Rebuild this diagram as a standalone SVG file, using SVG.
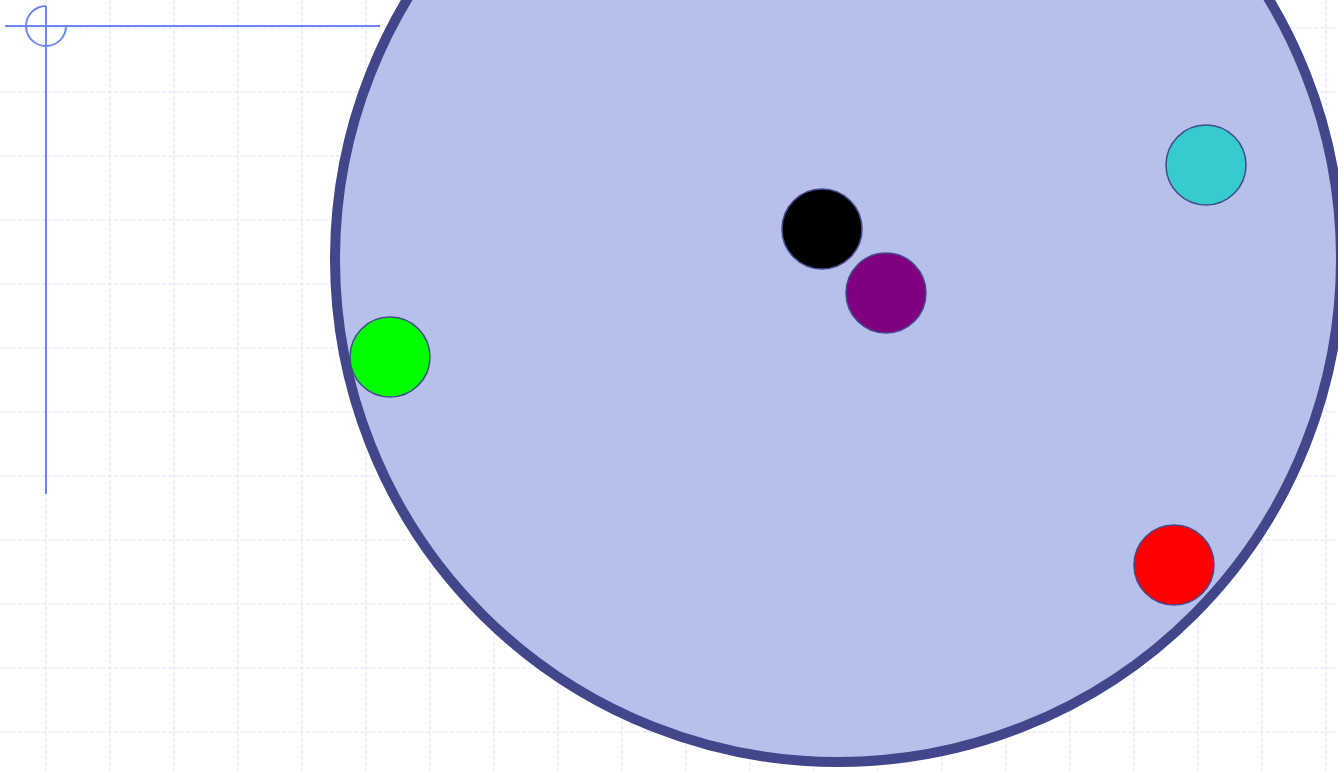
<svg xmlns="http://www.w3.org/2000/svg" width="1338" height="771" viewBox="0 0 1338 771">
<style>
.grid line{stroke:#dfe5fb;stroke-width:1.2;stroke-dasharray:4 2}
.axis{stroke:#6f86ee;stroke-width:2;fill:none}
.dot{stroke:#434a8c;stroke-width:1.5}
</style>
<rect width="1338" height="771" fill="#ffffff"/>
<g class="grid">
<line x1="46" y1="0" x2="46" y2="771"/><line x1="110" y1="0" x2="110" y2="771"/><line x1="174" y1="0" x2="174" y2="771"/><line x1="238" y1="0" x2="238" y2="771"/><line x1="302" y1="0" x2="302" y2="771"/><line x1="366" y1="0" x2="366" y2="771"/><line x1="430" y1="0" x2="430" y2="771"/><line x1="494" y1="0" x2="494" y2="771"/><line x1="558" y1="0" x2="558" y2="771"/><line x1="622" y1="0" x2="622" y2="771"/><line x1="686" y1="0" x2="686" y2="771"/><line x1="750" y1="0" x2="750" y2="771"/><line x1="814" y1="0" x2="814" y2="771"/><line x1="878" y1="0" x2="878" y2="771"/><line x1="942" y1="0" x2="942" y2="771"/><line x1="1006" y1="0" x2="1006" y2="771"/><line x1="1070" y1="0" x2="1070" y2="771"/><line x1="1134" y1="0" x2="1134" y2="771"/><line x1="1198" y1="0" x2="1198" y2="771"/><line x1="1262" y1="0" x2="1262" y2="771"/><line x1="1326" y1="0" x2="1326" y2="771"/>
<line x1="0" y1="28" x2="1338" y2="28"/><line x1="0" y1="92" x2="1338" y2="92"/><line x1="0" y1="156" x2="1338" y2="156"/><line x1="0" y1="220" x2="1338" y2="220"/><line x1="0" y1="284" x2="1338" y2="284"/><line x1="0" y1="348" x2="1338" y2="348"/><line x1="0" y1="412" x2="1338" y2="412"/><line x1="0" y1="476" x2="1338" y2="476"/><line x1="0" y1="540" x2="1338" y2="540"/><line x1="0" y1="604" x2="1338" y2="604"/><line x1="0" y1="668" x2="1338" y2="668"/><line x1="0" y1="732" x2="1338" y2="732"/>
</g>
<g id="axes">
<line class="axis" x1="5" y1="26" x2="380" y2="26"/>
<line class="axis" x1="46" y1="6" x2="46" y2="494"/>
<path class="axis" d="M46 6 A20 20 0 1 0 66 26"/>
</g>
<g id="big-circle">
<circle cx="838" cy="259" r="503" fill="#b7c0eb" stroke="#42468a" stroke-width="10"/>
</g>
<g id="green"><circle class="dot" cx="390" cy="357" r="40" fill="#00ff00"/></g>
<g id="black"><circle class="dot" cx="822" cy="229" r="40" fill="#000000"/></g>
<g id="purple"><circle class="dot" cx="886" cy="293" r="40" fill="#800080"/></g>
<g id="cyan"><circle class="dot" cx="1206" cy="165" r="40" fill="#36cbcc"/></g>
<g id="red"><circle class="dot" cx="1174" cy="565" r="40" fill="#ff0000"/></g>
</svg>
